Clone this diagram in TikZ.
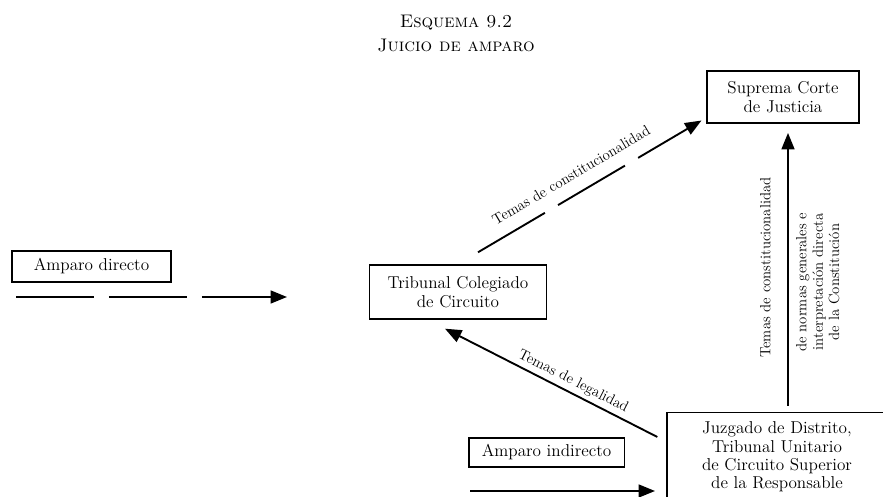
\documentclass[tikz,border=0pt]{standalone}
\usepackage{tikz}
\usetikzlibrary{arrows.meta, positioning, calc}

\begin{document}
\begin{tikzpicture}[x=0.85pt, y=0.85pt, >={Triangle[length=14pt, width=11pt]}, thick]

\clip (0,0) rectangle (883,497);

% --- Style Definitions ---
% Boxes (plain black frame)
\tikzstyle{box_node}=[rectangle, draw=black, line width=1.1pt, fill=white, align=center, inner sep=0pt, font=\fontsize{14.6}{15.6}\selectfont]
% Arrow Styles
\tikzstyle{flow_arrow}=[->, line width=1.6pt]
\tikzstyle{dash_arrow}=[->, line width=1.6pt, dash pattern=on 66pt off 13pt]
\tikzstyle{arrow_label}=[font=\fontsize{12.6}{14}\selectfont, sloped, inner sep=1pt]

% --- Title ---
\node[align=center, font=\fontsize{15.5}{20.4}\selectfont\scshape] (Title) at (456,463) {Esquema 9.2\\Juicio de amparo};

% --- Define Nodes ---
\node[box_node, minimum width=135pt, minimum height=26.4pt] (Amparo_D) at (91.5,230.5) {Amparo directo};
\node[box_node, minimum width=151pt, minimum height=46pt] (TCC) at (458,205) {Tribunal Colegiado\\de Circuito};
\node[box_node, minimum width=129pt, minimum height=44pt] (SCJ) at (783,400) {Suprema Corte\\de Justicia};
\node[box_node, minimum width=187pt, minimum height=76pt] (JD) at (777,40) {Juzgado de Distrito,\\Tribunal Unitario\\de Circuito Superior\\de la Responsable};
\node[box_node, minimum width=132pt, minimum height=24.7pt] (Amparo_I) at (546.5,44.5) {Amparo indirecto};

% --- Free ends ---
\coordinate (D_start) at (16,200);
\coordinate (D_end) at (287,200);
\coordinate (I_start) at (470,6);
\coordinate (I_end) at (655,6);

% --- Draw Connections ---

% 1. Amparo directo into the Tribunal Colegiado
\draw[dash_arrow] (D_start) -- (D_end);

% 2. Tribunal Colegiado up to the Suprema Corte
\draw[dash_arrow] ($(TCC.north)+(20,12)$) -- node[arrow_label, pos=0.46, above=10pt] {Temas de constitucionalidad} ($(SCJ.south west)+(-5,3)$);

% 3. Juzgado up to the Suprema Corte
\draw[flow_arrow, shorten <=5pt, shorten >=8pt] ($(JD.north)+(11,0)$) --
  node[arrow_label, midway, above=13pt] {Temas de constitucionalidad}
  node[arrow_label, pos=0.45, below=5pt, align=center] {de normas generales e\\interpretaci\'on directa\\de la Constituci\'on}
  ($(SCJ.south)+(5,0)$);

% 4. Juzgado back to the Tribunal Colegiado
\draw[flow_arrow] ($(JD.west)+(-9,20)$) -- node[arrow_label, pos=0.42, above=2pt] {Temas de legalidad} ($(TCC.south)+(-13,-9)$);

% 5. Amparo indirecto into the Juzgado
\draw[flow_arrow] (I_start) -- (I_end);

\end{tikzpicture}
\end{document}
